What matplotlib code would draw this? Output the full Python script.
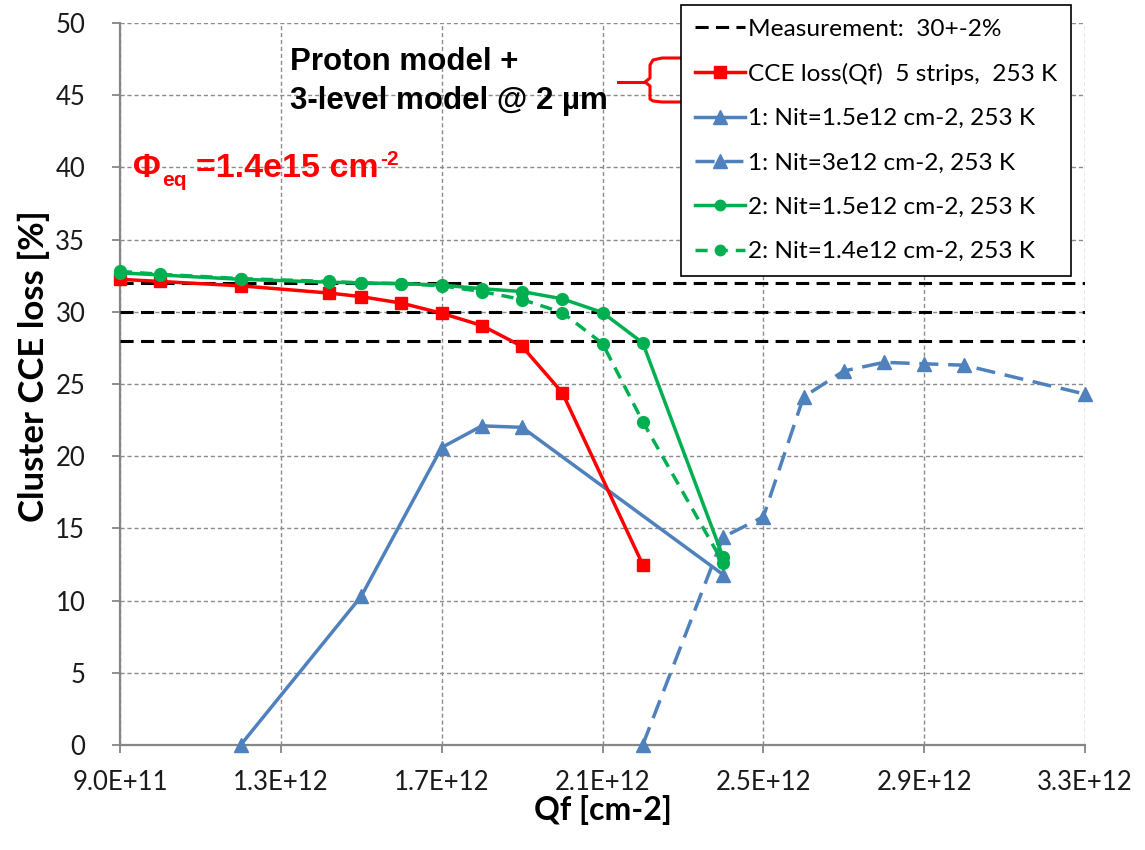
import matplotlib
matplotlib.use("Agg")
import matplotlib.pyplot as plt
from matplotlib.lines import Line2D

# ---- data ----
meas_levels = [28, 30, 32]

x_red = [9.0e11, 1.0e12, 1.2e12, 1.42e12, 1.5e12, 1.6e12, 1.7e12, 1.8e12, 1.9e12, 2.0e12, 2.2e12]
y_red = [32.25, 32.1, 31.8, 31.3, 31.05, 30.6, 29.9, 29.05, 27.6, 24.4, 12.5]

x_blue1 = [1.2e12, 1.5e12, 1.7e12, 1.8e12, 1.9e12, 2.4e12]
y_blue1 = [0.0, 10.3, 20.6, 22.1, 22.0, 11.8]

x_blue2 = [2.2e12, 2.4e12, 2.5e12, 2.6e12, 2.7e12, 2.8e12, 2.9e12, 3.0e12, 3.3e12]
y_blue2 = [0.0, 14.4, 15.8, 24.1, 25.9, 26.5, 26.4, 26.3, 24.3]

x_green = [9.0e11, 1.0e12, 1.2e12, 1.42e12, 1.5e12, 1.6e12, 1.7e12, 1.8e12, 1.9e12, 2.0e12, 2.1e12, 2.2e12, 2.4e12]
y_green1 = [32.7, 32.55, 32.25, 32.05, 32.0, 31.95, 31.85, 31.6, 31.4, 30.9, 29.95, 27.85, 13.0]
y_green2 = [32.8, 32.6, 32.3, 32.1, 32.0, 31.95, 31.8, 31.4, 30.85, 29.95, 27.8, 22.4, 12.6]

x_ticks = [9.0e11, 1.3e12, 1.7e12, 2.1e12, 2.5e12, 2.9e12, 3.3e12]
x_tick_labels = ["9.0E+11", "1.3E+12", "1.7E+12", "2.1E+12", "2.5E+12", "2.9E+12", "3.3E+12"]
y_ticks = [0, 5, 10, 15, 20, 25, 30, 35, 40, 45, 50]

labels = ["Measurement:  30+-2%", "CCE loss(Qf)  5 strips,  253 K",
          "1: Nit=1.5e12 cm-2, 253 K", "1: Nit=3e12 cm-2, 253 K",
          "2: Nit=1.5e12 cm-2, 253 K", "2: Nit=1.4e12 cm-2, 253 K"]

RED = "#FF0000"
BLUE = "#4F81BD"
GREEN = "#00B050"

DASH_BLACK = (0, (4.3, 2.4))
DASH_BLUE = (0, (5.5, 2.8))
DASH_GREEN = (0, (3.5, 2.3))

plt.rcParams['font.family'] = ['Lato', 'DejaVu Sans']

W, H = 1145, 850
fig = plt.figure(figsize=(W / 100, H / 100), dpi=100)
ax = fig.add_axes([120 / W, 105 / H, 965 / W, 722 / H])

ax.set_xlim(9.0e11, 3.3e12)
ax.set_ylim(0, 50)

for lv in meas_levels:
    ax.axhline(lv, color="black", lw=2.2, ls=DASH_BLACK, zorder=3)

ax.plot(x_blue1, y_blue1, color=BLUE, lw=2.5, marker="^", ms=10, zorder=4, clip_on=False)
ax.plot(x_blue2, y_blue2, color=BLUE, lw=2.5, ls=DASH_BLUE, marker="^", ms=10, zorder=4, clip_on=False)
ax.plot(x_red, y_red, color=RED, lw=2.5, marker="s", ms=8.5, zorder=5, clip_on=False)
ax.plot(x_green, y_green2, color=GREEN, lw=2.5, ls=DASH_GREEN, marker="o", ms=8.5, zorder=5, clip_on=False)
ax.plot(x_green, y_green1, color=GREEN, lw=2.5, marker="o", ms=8.5, zorder=6, clip_on=False)

ax.set_xticks(x_ticks)
ax.set_xticklabels(x_tick_labels)
ax.set_yticks(y_ticks)
ax.tick_params(axis="both", labelsize=18.5, color="#868686", length=6, width=1.3,
               direction="out", labelcolor="#1a1a1a")
ax.tick_params(axis="x", pad=12)
ax.tick_params(axis="y", pad=19)
ax.grid(True, color="#8c8c8c", ls=(0, (3, 2)), lw=1.0)
ax.set_axisbelow(True)
for s in ["top", "right"]:
    ax.spines[s].set_visible(False)
for s in ["left", "bottom"]:
    ax.spines[s].set_color("#868686")
    ax.spines[s].set_linewidth(1.6)

ax.set_xlabel("Qf [cm-2]", fontsize=23, fontweight="bold", labelpad=0)
ax.set_ylabel("Cluster CCE loss [%]", fontsize=25, fontweight="bold")
ax.yaxis.set_label_coords(-0.073, 0.525)

handles = [
    Line2D([], [], color="black", lw=2.2, ls=DASH_BLACK),
    Line2D([], [], color=RED, lw=2.5, marker="s", ms=8.5),
    Line2D([], [], color=BLUE, lw=2.5, marker="^", ms=10),
    Line2D([], [], color=BLUE, lw=2.5, ls=DASH_BLUE, marker="^", ms=10),
    Line2D([], [], color=GREEN, lw=2.5, marker="o", ms=7.5),
    Line2D([], [], color=GREEN, lw=2.5, ls=DASH_GREEN, marker="o", ms=7.5),
]
leg = fig.legend(handles, labels, loc="upper right", bbox_to_anchor=(1071 / W, 1 - 5 / H),
                 prop={"family": "Lato", "size": 17.6}, frameon=True, fancybox=False,
                 edgecolor="black", framealpha=1, handlelength=2.05, handletextpad=0.15,
                 labelspacing=0.95, borderpad=0.55, borderaxespad=0)
leg.get_frame().set_linewidth(1.2)

# annotation text
ann_kw = dict(fontsize=22.5, fontweight="bold", color="black", va="baseline", ha="left",
              family="Liberation Sans")
fig.text(290 / W, 1 - 70 / H, "Proton model +", **ann_kw)
fig.text(290 / W, 1 - 109 / H, "3-level model @ 2 µm", **ann_kw)

# fluence text built from pieces
renderer = fig.canvas.get_renderer()
fam = "Liberation Sans"
base_y = 177
t1 = fig.text(133 / W, 1 - base_y / H, "Φ", fontsize=24.5, fontweight="bold", color=RED,
              va="baseline", ha="left", family=fam)
x_end = t1.get_window_extent(renderer).x1
t2 = fig.text(x_end / W + 1 / W, 1 - (base_y + 9) / H, "eq", fontsize=15, fontweight="bold",
              color=RED, va="baseline", ha="left", family=fam)
x_end = t2.get_window_extent(renderer).x1
t3 = fig.text(x_end / W + 10 / W, 1 - base_y / H, "=1.4e15 cm", fontsize=24.5, fontweight="bold",
              color=RED, va="baseline", ha="left", family=fam)
x_end = t3.get_window_extent(renderer).x1
fig.text(x_end / W + 1 / W, 1 - (base_y - 12) / H, "-2", fontsize=15, fontweight="bold",
         color=RED, va="baseline", ha="left", family=fam)

# red brace linking annotation to legend entry
fig.add_artist(Line2D([618 / W, 645 / W], [1 - 82 / H, 1 - 82 / H], color=RED, lw=2.2,
                      transform=fig.transFigure))
bxs = [682, 662, 653, 650, 650, 645, 650, 650, 653, 662, 682]
bys = [58, 58, 60, 65, 78, 82, 86, 99, 101, 102, 102]
fig.add_artist(Line2D([v / W for v in bxs], [1 - v / H for v in bys], color=RED, lw=2.2,
                      transform=fig.transFigure, solid_joinstyle="round"))

fig.savefig("out.png", dpi=100)
